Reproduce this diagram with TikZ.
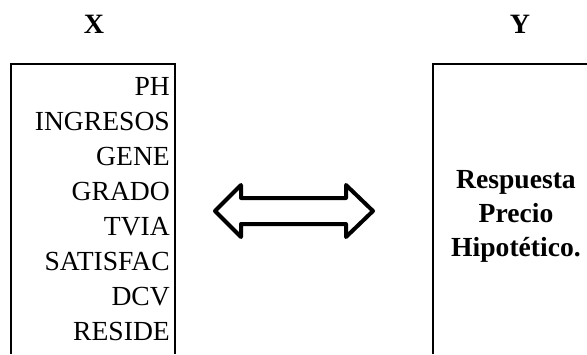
\documentclass[tikz,border=0pt]{standalone}
\usepackage{fontspec}
\setmainfont{Liberation Serif}
\usetikzlibrary{calc}
\tikzset{
  boxline/.style  = {line width=1.5pt, black},
  varlbl/.style   = {font=\fontsize{27.6}{35}\selectfont, inner sep=0pt, anchor=base east},
  resplbl/.style  = {font=\fontsize{27.6}{35}\selectfont\bfseries, inner sep=0pt, anchor=base},
  headlbl/.style  = {font=\fontsize{28}{35}\selectfont\bfseries, inner sep=0pt, anchor=base},
  blockarrow/.style = {line width=4pt, line join=round, black, fill=white},
}

\begin{document}
\begin{tikzpicture}[x=1pt, y=-1pt]
  \useasboundingbox (0,0) rectangle (587,354);
  % headers
  \node[headlbl] (hx) at (94,33) {X};
  \node[headlbl] (hy) at (520,33) {Y};
  % open boxes
  \draw[boxline] (11,354) -- (11,64) -- (175,64) -- (175,354);
  \draw[boxline] (433,354) -- (433,64) -- (587,64);
  % explanatory variables
  \foreach \name [count=\i from 0] in {PH, INGRESOS, GENE, GRADO, TVIA, SATISFAC, DCV, RESIDE}
    \node[varlbl] (v\i) at (170,{95+35*\i}) {\name};
  % response
  \node[resplbl] (r1) at (516,188) {Respuesta};
  \node[resplbl] (r2) at (516,222) {Precio};
  \node[resplbl] (r3) at (516,256) {Hipotético.};
  % double arrow
  \coordinate (ac) at (294,211);
  \draw[blockarrow] ($(ac)+(-79,0)$) -- ++(26,-26) -- ++(0,13) -- ++(105,0) -- ++(0,-13)
    -- ($(ac)+(79,0)$) -- ++(-27,26) -- ++(0,-13) -- ++(-105,0) -- ++(0,13) -- cycle;
\end{tikzpicture}
\end{document}
